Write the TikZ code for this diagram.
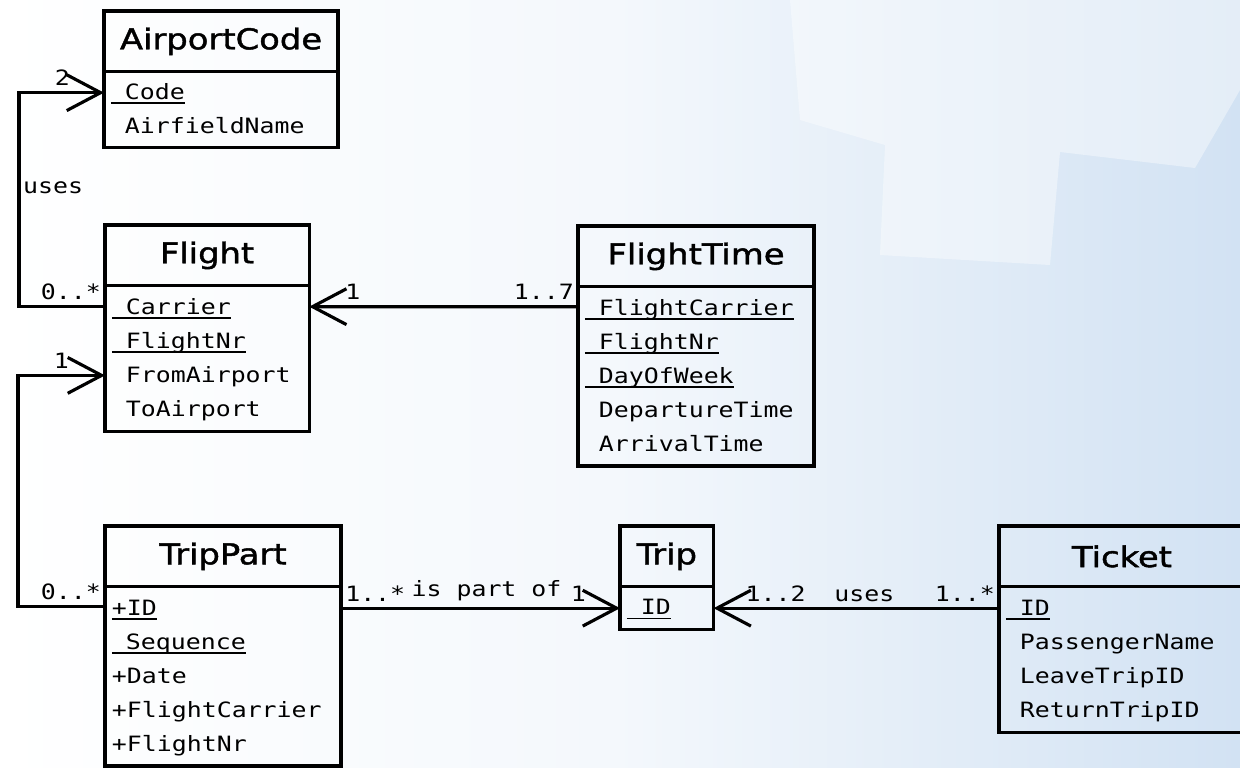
\documentclass[tikz,border=0pt]{standalone}
\usepackage{fontspec}
\usetikzlibrary{positioning,arrows.meta}
\newfontfamily\titlefont[FakeStretch=1.18,FakeBold=1.5]{DejaVu Sans}
\newfontfamily\attrfont[FakeStretch=1.18]{DejaVu Sans Mono}
\definecolor{bgblue}{RGB}{210,226,243}
\newdimen\upx \upx=0.5669pt
\newsavebox\pkbox
% key attribute, underlined
\newcommand{\pk}[1]{\leavevmode\sbox\pkbox{#1}\rlap{\rule[-2.5pt]{\wd\pkbox}{1pt}}\usebox\pkbox}
\newcommand{\lead}{\leavevmode\hbox to 14\upx{}}

\begin{document}
\begin{tikzpicture}[x=0.02cm, y=-0.02cm,
	class/.style={draw, line width=1.8pt, outer sep=0pt},
	classtitle/.style={class, anchor=north west, minimum width=#1\upx, minimum height=61\upx, inner sep=0pt, font=\titlefont\fontsize{16.3}{20}\selectfont},
	classattr/.style={class, text width=#1\upx, inner xsep=7\upx, inner ysep=2\upx, align=left, font=\attrfont\fontsize{12}{19.3}\selectfont, execute at begin node=\strut, execute at end node=\strut},
	mult/.style={inner xsep=1.5pt, inner ysep=3pt, font=\attrfont\fontsize{12}{14}\selectfont},
	assoc/.style={line width=1.8pt, -{Straight Barb[length=19.3pt, width=20.4pt]}}
]
	\useasboundingbox (0,0) rectangle (1240,767);
	\clip (0,0) rectangle (1240,767);

	%background
	\shade[left color=white, right color=bgblue, middle color=white!75!bgblue] (0,0) rectangle (1240,767);
	\fill[white, opacity=0.4] (790,0) -- (1240,0) -- (1240,90) -- (1195,168) -- (1060,152) -- (1050,265) -- (880,255) -- (885,145) -- (800,120) -- cycle;

	%classes
	\node[classtitle=235] (airport) at (104,11) {AirportCode};
	\node[classattr=221, minimum height=76\upx, below=0pt of airport] (airportattr)
	{\pk{\lead Code}\\ \lead AirfieldName};

	\node[classtitle=205] (flight) at (105,225) {Flight};
	\node[classattr=191, minimum height=146\upx, below=0pt of flight] (flightattr)
	{\pk{\lead Carrier}\\ \pk{\lead FlightNr}\\ \lead FromAirport\\ \lead ToAirport};

	\node[classtitle=237] (ftime) at (578,226) {FlightTime};
	\node[classattr=223, minimum height=180\upx, below=0pt of ftime] (ftimeattr)
	{\pk{\lead FlightCarrier}\\ \pk{\lead FlightNr}\\ \pk{\lead DayOfWeek}\\ \lead DepartureTime\\ \lead ArrivalTime};

	\node[classtitle=237] (trippart) at (105,526) {TripPart};
	\node[classattr=223, minimum height=180\upx, below=0pt of trippart] (tripattr)
	{\pk{+ID}\\ \pk{\lead Sequence}\\ +Date\\ +FlightCarrier\\ +FlightNr};

	\node[classtitle=94] (trip) at (620,526) {Trip};
	\node[classattr=80, minimum height=43\upx, below=0pt of trip] (tripidattr)
	{\pk{\lead ID}};

	\node[classtitle=247] (ticket) at (999,526) {Ticket};
	\node[classattr=233, minimum height=146\upx, below=0pt of ticket] (ticketattr)
	{\pk{\lead ID}\\ \lead PassengerName\\ \lead LeaveTripID\\ \lead ReturnTripID};

	%flight uses airport codes
	\draw[assoc] ([yshift=-21\upx]flightattr.north west) node[mult, above left] {0..*}
	 -- ++(-86,0) |- node[mult, right, pos=0.25, yshift=12\upx] {uses}
	 node[mult, above left, pos=1, xshift=-30\upx] {2} ([yshift=-21\upx]airportattr.north west);

	%trip part to flight
	\draw[assoc] ([yshift=-20\upx]tripattr.north west) node[mult, above left] {0..*}
	 -- ++(-87,0) |- node[mult, above left, pos=1, xshift=-32\upx] {1} ([yshift=-90\upx]flightattr.north west);

	%flight times
	\draw[assoc] ([yshift=-20\upx]ftimeattr.north west) -- node[mult, pos=0, above left] {1..7}
	 node[mult, pos=1, above right, xshift=32\upx] {1} ([yshift=-21\upx]flightattr.north east);

	%is part of
	\draw[assoc] (tripidattr.west -| tripattr.east) -- node[mult, pos=0, above right] {1..*}
	 node[mult, above, xshift=6\upx] {is part of} node[mult, pos=1, above left, xshift=-30\upx] {1} (tripidattr.west);

	%ticket uses trips
	\draw[assoc] (tripidattr.east -| ticketattr.west) -- node[mult, pos=0, above left] {1..*}
	 node[mult, above, xshift=8\upx] {uses} node[mult, pos=1, above right, xshift=28\upx] {1..2} (tripidattr.east);

\end{tikzpicture}
\end{document}
